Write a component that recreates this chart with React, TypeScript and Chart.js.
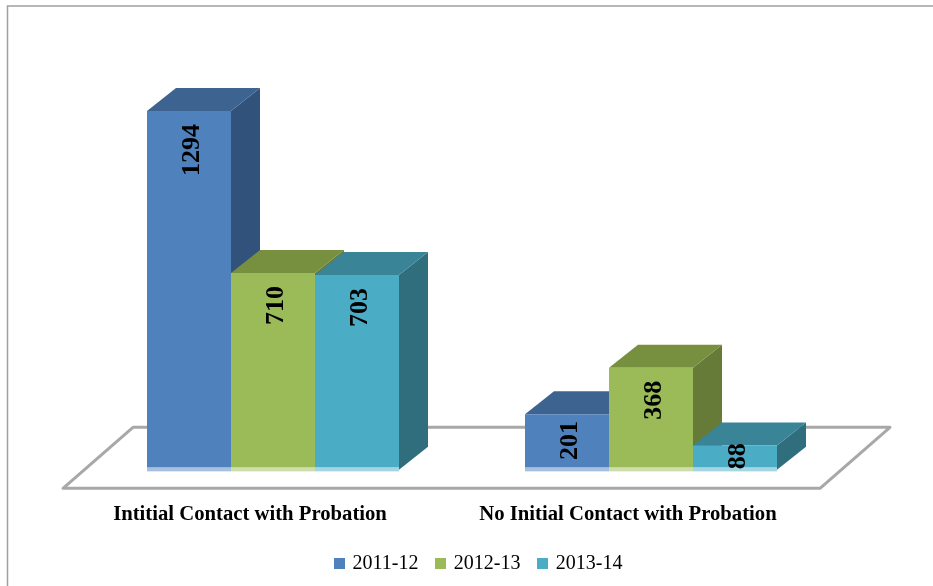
import React, { useEffect, useRef } from "react";
import { Chart, registerables } from "chart.js";

Chart.register(...registerables);

const categories = ["Intitial Contact with Probation", "No Initial Contact with Probation"];
const seriesNames = ["2011-12", "2012-13", "2013-14"];
const values2011 = [1294, 201];
const values2012 = [710, 368];
const values2013 = [703, 88];
const frontColors = ["#4F81BD", "#9BBB59", "#4BACC6"];
const topColors = ["#3D6490", "#769040", "#3A8498"];
const sideColors = ["#31527A", "#667B38", "#306E7E"];

const DEPTH_X = 29;
const DEPTH_Y = 23;
const SERIF = "'Liberation Serif', serif";

const swatch = (color: string) => {
  const c = document.createElement("canvas");
  c.width = 11;
  c.height = 11;
  const g = c.getContext("2d")!;
  g.fillStyle = color;
  g.fillRect(0, 0, 11, 11);
  return c;
};

const polygon = (ctx: any, pts: number[][], fill: string) => {
  ctx.beginPath();
  pts.forEach((p, i) => (i ? ctx.lineTo(p[0], p[1]) : ctx.moveTo(p[0], p[1])));
  ctx.closePath();
  ctx.fillStyle = fill;
  ctx.fill();
};

const scene3d = {
  id: "scene3d",
  afterLayout(chart: any) {
    const l = chart.legend;
    const shift = 17.5;
    l.left += shift;
    l.right += shift;
    l.top -= 24.5;
    l.bottom -= 24.5;
  },
  beforeDraw(chart: any) {
    const { ctx, width, height } = chart;
    ctx.save();
    ctx.fillStyle = "#ffffff";
    ctx.fillRect(0, 0, width, height);
    ctx.strokeStyle = "#A0A0A0";
    ctx.lineWidth = 1.5;
    ctx.beginPath();
    ctx.moveTo(7.5, height);
    ctx.lineTo(7.5, 6);
    ctx.lineTo(width, 6);
    ctx.stroke();
    ctx.restore();
  },
  beforeDatasetsDraw(chart: any) {
    const { ctx, chartArea: a } = chart;
    ctx.save();
    // floor
    ctx.strokeStyle = "#A8A8A8";
    ctx.lineWidth = 3;
    ctx.lineJoin = "round";
    ctx.beginPath();
    ctx.moveTo(a.left - 21, a.bottom + 18.5);
    ctx.lineTo(a.left + 49, a.bottom - 42.5);
    ctx.lineTo(a.right + 50, a.bottom - 42.5);
    ctx.lineTo(a.right - 20, a.bottom + 18.5);
    ctx.closePath();
    ctx.stroke();
    // depth faces, left to right so that nearer bars overlap
    for (let cat = 0; cat < categories.length; cat++) {
      chart.data.datasets.forEach((_: any, ds: number) => {
        const el = chart.getDatasetMeta(ds).data[cat];
        const half = el.width / 2;
        const l = el.x - half;
        const r = el.x + half;
        polygon(ctx, [[r, el.y], [r + DEPTH_X, el.y - DEPTH_Y], [r + DEPTH_X, el.base - DEPTH_Y], [r, el.base]], sideColors[ds]);
        polygon(ctx, [[l, el.y], [l + DEPTH_X, el.y - DEPTH_Y], [r + DEPTH_X, el.y - DEPTH_Y], [r, el.y]], topColors[ds]);
      });
    }
    ctx.restore();
  },
  afterDatasetsDraw(chart: any) {
    const { ctx } = chart;
    ctx.save();
    chart.data.datasets.forEach((ds: any, d: number) => {
      chart.getDatasetMeta(d).data.forEach((el: any, i: number) => {
        const half = el.width / 2;
        // pale reflection strip along the foot of each bar
        ctx.fillStyle = "#ffffff";
        ctx.fillRect(el.x - half, el.base - 2.5, el.width, 4);
        ctx.globalAlpha = 0.5;
        ctx.fillStyle = frontColors[d];
        ctx.fillRect(el.x - half, el.base - 2.5, el.width, 4);
        ctx.globalAlpha = 1;
        // rotated value label
        const text = String(ds.data[i]);
        ctx.font = `bold 26px ${SERIF}`;
        const tw = ctx.measureText(text).width;
        const cy = Math.min(el.y + 13 + tw / 2, (el.y + el.base) / 2 - 1.5);
        ctx.save();
        ctx.translate(el.x + 3, cy);
        ctx.rotate(-Math.PI / 2);
        ctx.fillStyle = "#000000";
        ctx.textAlign = "center";
        ctx.textBaseline = "middle";
        ctx.fillText(text, 0, 0);
        ctx.restore();
      });
    });
    ctx.restore();
  },
};

export default function App() {
  const ref = useRef<HTMLCanvasElement>(null);
  useEffect(() => {
    const all = [values2011, values2012, values2013];
    const chart = new Chart(ref.current!, {
      type: "bar",
      data: {
        labels: categories,
        datasets: seriesNames.map((name, i) => ({
          label: name,
          data: all[i],
          backgroundColor: frontColors[i],
          borderWidth: 0,
          barPercentage: 1,
          categoryPercentage: 2 / 3,
        })),
      },
      plugins: [scene3d as any],
      options: {
        responsive: false,
        animation: false,
        layout: { padding: { left: 84, right: 93, top: 109.4, bottom: -22.1 } },
        scales: {
          x: {
            grid: { display: false, drawTicks: false },
            border: { display: false },
            ticks: {
              autoSkip: false,
              maxRotation: 0,
              minRotation: 0,
              padding: 32,
              labelOffset: -23,
              color: "#000000",
              font: { family: SERIF, size: 20.7, weight: "bold" },
            },
          },
          y: { display: false, min: 0, max: 1300 },
        },
        plugins: {
          tooltip: { enabled: false },
          legend: {
            position: "bottom",
            labels: {
              usePointStyle: true,
              pointStyleWidth: 6,
              padding: 19.4,
              color: "#000000",
              font: { family: SERIF, size: 20 },
              generateLabels: () =>
                seriesNames.map((name, i) => ({
                  text: name,
                  fillStyle: frontColors[i],
                  strokeStyle: frontColors[i],
                  lineWidth: 0,
                  pointStyle: swatch(frontColors[i]),
                  datasetIndex: i,
                })),
            },
          },
        },
      } as any,
    });
    return () => chart.destroy();
  }, []);
  return (
    <canvas
      ref={ref}
      width={933}
      height={586}
      style={{ position: "absolute", left: 0, top: 0, display: "block" }}
    />
  );
}
